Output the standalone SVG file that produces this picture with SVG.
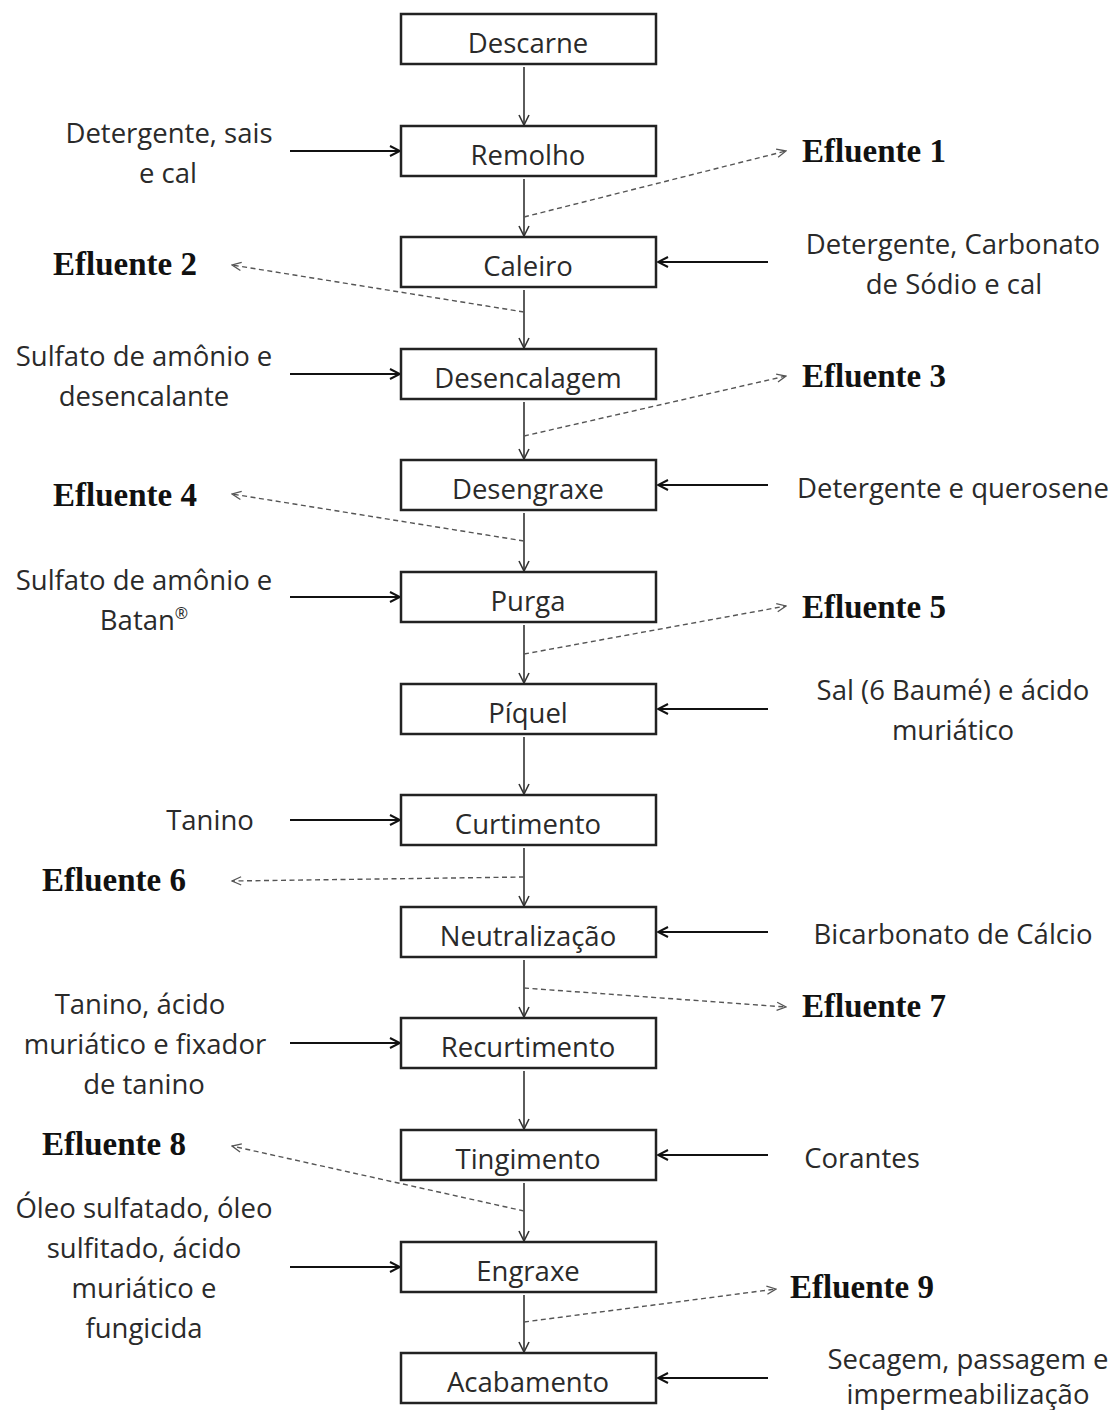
<svg xmlns="http://www.w3.org/2000/svg" width="1117" height="1410" viewBox="0 0 1117 1410">
<style>
.box{fill:#fff;stroke:#222;stroke-width:2.5}
.bt{font-family:"Open Sans","Liberation Sans",sans-serif;font-size:27.5px;fill:#2a2a2a;text-anchor:middle}
.lt{font-family:"Open Sans","Liberation Sans",sans-serif;font-size:27.5px;fill:#2a2a2a;text-anchor:middle}
.ef{font-family:"Liberation Serif","DejaVu Serif",serif;font-size:33px;font-weight:bold;fill:#111}
.v{stroke:#333;stroke-width:1.6;fill:none;marker-end:url(#av)}
.in{stroke:#111;stroke-width:2.2;fill:none;marker-end:url(#ai)}
.d{stroke:#555;stroke-width:1.4;stroke-dasharray:5,3.5;fill:none;marker-end:url(#ad)}
</style>
<defs>
<marker id="av" viewBox="0 0 12 12" refX="11" refY="6" markerWidth="12" markerHeight="12" markerUnits="userSpaceOnUse" orient="auto"><path d="M1,1 L11,6 L1,11" fill="none" stroke="#333" stroke-width="1.6"/></marker>
<marker id="ai" viewBox="0 0 12 12" refX="11" refY="6" markerWidth="12" markerHeight="12" markerUnits="userSpaceOnUse" orient="auto"><path d="M1,1 L11,6 L1,11" fill="none" stroke="#111" stroke-width="2"/></marker>
<marker id="ad" viewBox="0 0 12 12" refX="11" refY="6" markerWidth="11" markerHeight="11" markerUnits="userSpaceOnUse" orient="auto"><path d="M1,1.5 L11,6 L1,10.5" fill="none" stroke="#555" stroke-width="1.4"/></marker>
</defs>
<rect width="1117" height="1410" fill="#fff"/>
<g id="connectors">
<line class="v" x1="524" y1="67" x2="524" y2="125"/>
<line class="v" x1="524" y1="179" x2="524" y2="236"/>
<line class="v" x1="524" y1="290" x2="524" y2="348"/>
<line class="v" x1="524" y1="402" x2="524" y2="459"/>
<line class="v" x1="524" y1="513" x2="524" y2="571"/>
<line class="v" x1="524" y1="625" x2="524" y2="683"/>
<line class="v" x1="524" y1="737" x2="524" y2="794"/>
<line class="v" x1="524" y1="848" x2="524" y2="906"/>
<line class="v" x1="524" y1="960" x2="524" y2="1017"/>
<line class="v" x1="524" y1="1071" x2="524" y2="1129"/>
<line class="v" x1="524" y1="1183" x2="524" y2="1241"/>
<line class="v" x1="524" y1="1295" x2="524" y2="1352"/>
<line class="in" x1="290" y1="151" x2="400" y2="151"/>
<line class="in" x1="290" y1="374" x2="400" y2="374"/>
<line class="in" x1="290" y1="597" x2="400" y2="597"/>
<line class="in" x1="290" y1="820" x2="400" y2="820"/>
<line class="in" x1="290" y1="1043" x2="400" y2="1043"/>
<line class="in" x1="290" y1="1267" x2="400" y2="1267"/>
<line class="in" x1="768" y1="262" x2="658" y2="262"/>
<line class="in" x1="768" y1="485" x2="658" y2="485"/>
<line class="in" x1="768" y1="709" x2="658" y2="709"/>
<line class="in" x1="768" y1="932" x2="658" y2="932"/>
<line class="in" x1="768" y1="1155" x2="658" y2="1155"/>
<line class="in" x1="768" y1="1378" x2="658" y2="1378"/>
<line class="d" x1="524" y1="217" x2="786" y2="151"/>
<line class="d" x1="524" y1="312" x2="232" y2="265"/>
<line class="d" x1="524" y1="436" x2="786" y2="376"/>
<line class="d" x1="524" y1="541" x2="232" y2="494"/>
<line class="d" x1="524" y1="654" x2="786" y2="606"/>
<line class="d" x1="524" y1="877" x2="232" y2="881"/>
<line class="d" x1="524" y1="988" x2="786" y2="1007"/>
<line class="d" x1="524" y1="1211" x2="232" y2="1146"/>
<line class="d" x1="524" y1="1322" x2="776" y2="1289"/>
</g>
<g id="n-descarne"><rect class="box" x="401" y="14" width="255" height="50"/><text class="bt" x="528" y="53">Descarne</text></g>
<g id="n-remolho"><rect class="box" x="401" y="126" width="255" height="50"/><text class="bt" x="528" y="165">Remolho</text></g>
<g id="n-caleiro"><rect class="box" x="401" y="237" width="255" height="50"/><text class="bt" x="528" y="276">Caleiro</text></g>
<g id="n-desencalagem"><rect class="box" x="401" y="349" width="255" height="50"/><text class="bt" x="528" y="388">Desencalagem</text></g>
<g id="n-desengraxe"><rect class="box" x="401" y="460" width="255" height="50"/><text class="bt" x="528" y="499">Desengraxe</text></g>
<g id="n-purga"><rect class="box" x="401" y="572" width="255" height="50"/><text class="bt" x="528" y="611">Purga</text></g>
<g id="n-piquel"><rect class="box" x="401" y="684" width="255" height="50"/><text class="bt" x="528" y="723">Píquel</text></g>
<g id="n-curtimento"><rect class="box" x="401" y="795" width="255" height="50"/><text class="bt" x="528" y="834">Curtimento</text></g>
<g id="n-neutralizacao"><rect class="box" x="401" y="907" width="255" height="50"/><text class="bt" x="528" y="946">Neutralização</text></g>
<g id="n-recurtimento"><rect class="box" x="401" y="1018" width="255" height="50"/><text class="bt" x="528" y="1057">Recurtimento</text></g>
<g id="n-tingimento"><rect class="box" x="401" y="1130" width="255" height="50"/><text class="bt" x="528" y="1169">Tingimento</text></g>
<g id="n-engraxe"><rect class="box" x="401" y="1242" width="255" height="50"/><text class="bt" x="528" y="1281">Engraxe</text></g>
<g id="n-acabamento"><rect class="box" x="401" y="1353" width="255" height="50"/><text class="bt" x="528" y="1392">Acabamento</text></g>
<g id="in-remolho"><text class="lt" x="169" y="143">Detergente, sais</text><text class="lt" x="168" y="183">e cal</text></g>
<g id="in-caleiro"><text class="lt" x="953" y="254">Detergente,  Carbonato</text><text class="lt" x="954" y="294">de Sódio e cal</text></g>
<g id="in-desencalagem"><text class="lt" x="144" y="366">Sulfato de amônio e</text><text class="lt" x="144" y="406">desencalante</text></g>
<g id="in-desengraxe"><text class="lt" x="953" y="498">Detergente e querosene</text></g>
<g id="in-purga"><text class="lt" x="144" y="590">Sulfato de amônio e</text><text class="lt" x="144" y="630">Batan<tspan font-size="16" dy="-11">®</tspan></text></g>
<g id="in-piquel"><text class="lt" x="953" y="700">Sal (6 Baumé) e ácido</text><text class="lt" x="953" y="740">muriático</text></g>
<g id="in-curtimento"><text class="lt" x="210" y="830">Tanino</text></g>
<g id="in-neutralizacao"><text class="lt" x="953" y="944">Bicarbonato de Cálcio</text></g>
<g id="in-recurtimento"><text class="lt" x="140" y="1014">Tanino, ácido</text><text class="lt" x="145" y="1054">muriático e fixador</text><text class="lt" x="144" y="1094">de tanino</text></g>
<g id="in-tingimento"><text class="lt" x="862" y="1168">Corantes</text></g>
<g id="in-engraxe"><text class="lt" x="144" y="1218">Óleo sulfatado, óleo</text><text class="lt" x="144" y="1258">sulfitado, ácido</text><text class="lt" x="144" y="1298">muriático e</text><text class="lt" x="144" y="1338">fungicida</text></g>
<g id="in-acabamento"><text class="lt" x="968" y="1369">Secagem, passagem e</text><text class="lt" x="968" y="1404">impermeabilização</text></g>
<g id="ef1"><text class="ef" x="802" y="162">Efluente 1</text></g>
<g id="ef2"><text class="ef" x="53" y="275">Efluente 2</text></g>
<g id="ef3"><text class="ef" x="802" y="387">Efluente 3</text></g>
<g id="ef4"><text class="ef" x="53" y="506">Efluente 4</text></g>
<g id="ef5"><text class="ef" x="802" y="618">Efluente 5</text></g>
<g id="ef6"><text class="ef" x="42" y="891">Efluente 6</text></g>
<g id="ef7"><text class="ef" x="802" y="1017">Efluente 7</text></g>
<g id="ef8"><text class="ef" x="42" y="1155">Efluente 8</text></g>
<g id="ef9"><text class="ef" x="790" y="1298">Efluente 9</text></g>
</svg>
